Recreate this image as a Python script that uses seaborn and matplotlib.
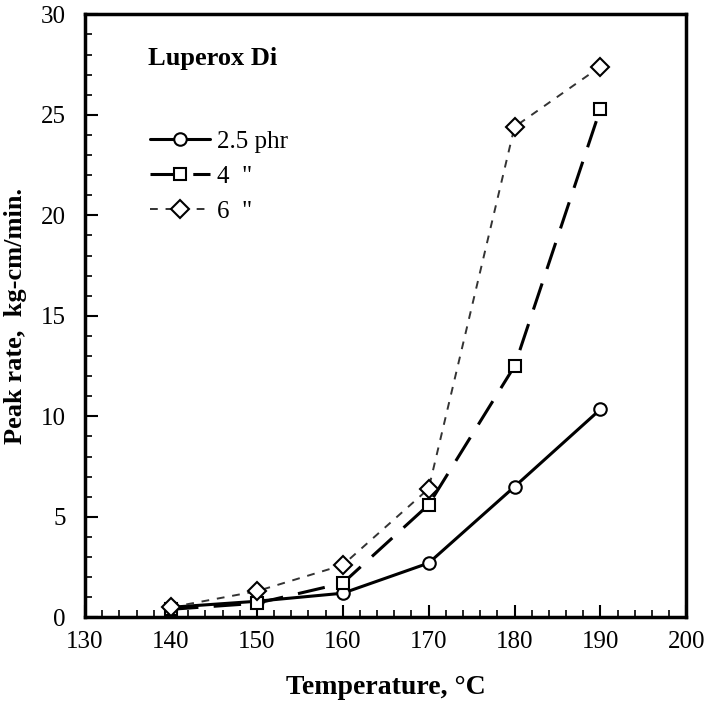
#!/usr/bin/env python3
"""Peak rate vs temperature for Luperox Di levels"""

import matplotlib
matplotlib.use('Agg')
import matplotlib.pyplot as plt
import pandas as pd
import seaborn as sns
from matplotlib.ticker import MultipleLocator

temps = [140, 150, 160, 170, 180, 190]
rate_25 = [0.5, 0.8, 1.2, 2.7, 6.5, 10.35]
rate_4 = [0.4, 0.7, 1.7, 5.6, 12.5, 25.3]
rate_6 = [0.5, 1.3, 2.6, 6.4, 24.4, 27.4]
labels = ['2.5 phr', '4  "', '6  "']

# --------------------------------------------------
sns.set_style('ticks')
plt.rcParams['font.family'] = ['Liberation Serif', 'DejaVu Serif']
plt.rcParams['text.color'] = 'black'
plt.rcParams['axes.labelcolor'] = 'black'
plt.rcParams['xtick.color'] = 'black'
plt.rcParams['ytick.color'] = 'black'
plt.rcParams['axes.edgecolor'] = 'black'

df = pd.DataFrame({
    'temp': temps * 3,
    'rate': rate_25 + rate_4 + rate_6,
    'level': [labels[0]] * 6 + [labels[1]] * 6 + [labels[2]] * 6,
})

fig = plt.figure(figsize=(7.09, 7.17), dpi=100)
ax = fig.add_axes([0.12, 0.139, 0.848, 0.841])

styles = {
    labels[0]: dict(ls='-', marker='o', lw=2.2, color='black'),
    labels[1]: dict(ls=(0, (9, 5)), marker='s', lw=2.2, color='black'),
    labels[2]: dict(ls=(0, (4, 4)), marker='D', lw=1.4, color='#333333'),
}
for lev in labels:
    st = styles[lev]
    sns.lineplot(data=df[df['level'] == lev], x='temp', y='rate', ax=ax,
                 label=lev, color=st['color'], linestyle=st['ls'],
                 linewidth=st['lw'], marker=st['marker'], markersize=9,
                 markerfacecolor='white', markeredgecolor='black',
                 markeredgewidth=1.5)

ax.set_xlim(130, 200)
ax.set_ylim(0, 30)
ax.xaxis.set_major_locator(MultipleLocator(10))
ax.xaxis.set_minor_locator(MultipleLocator(2))
ax.yaxis.set_major_locator(MultipleLocator(5))
ax.yaxis.set_minor_locator(MultipleLocator(1))
ax.tick_params(which='major', direction='in', length=9, width=1.5,
               labelsize=18, top=False, right=False)
ax.tick_params(axis='x', which='major', pad=10)
ax.tick_params(axis='y', which='major', pad=14)
ax.tick_params(which='minor', direction='in', length=5, width=1.2,
               top=False, right=False)
for sp in ax.spines.values():
    sp.set_linewidth(2.5)

ax.set_xlabel('Temperature, °C', fontsize=20, fontweight='bold',
              labelpad=16)
ax.set_ylabel('Peak rate,  kg-cm/min.', fontsize=19, fontweight='bold',
              labelpad=10)

# legend sits under a free-standing title, as in the original figure
leg = ax.legend(loc='upper left', bbox_to_anchor=(0.07, 0.845),
                frameon=False, fontsize=18, handlelength=2.4,
                handletextpad=0.3, labelspacing=0.5)
ax.text(0.105, 0.927, 'Luperox Di', transform=ax.transAxes, fontsize=19,
        fontweight='bold', va='center')

fig.savefig('out.png', dpi=100)
